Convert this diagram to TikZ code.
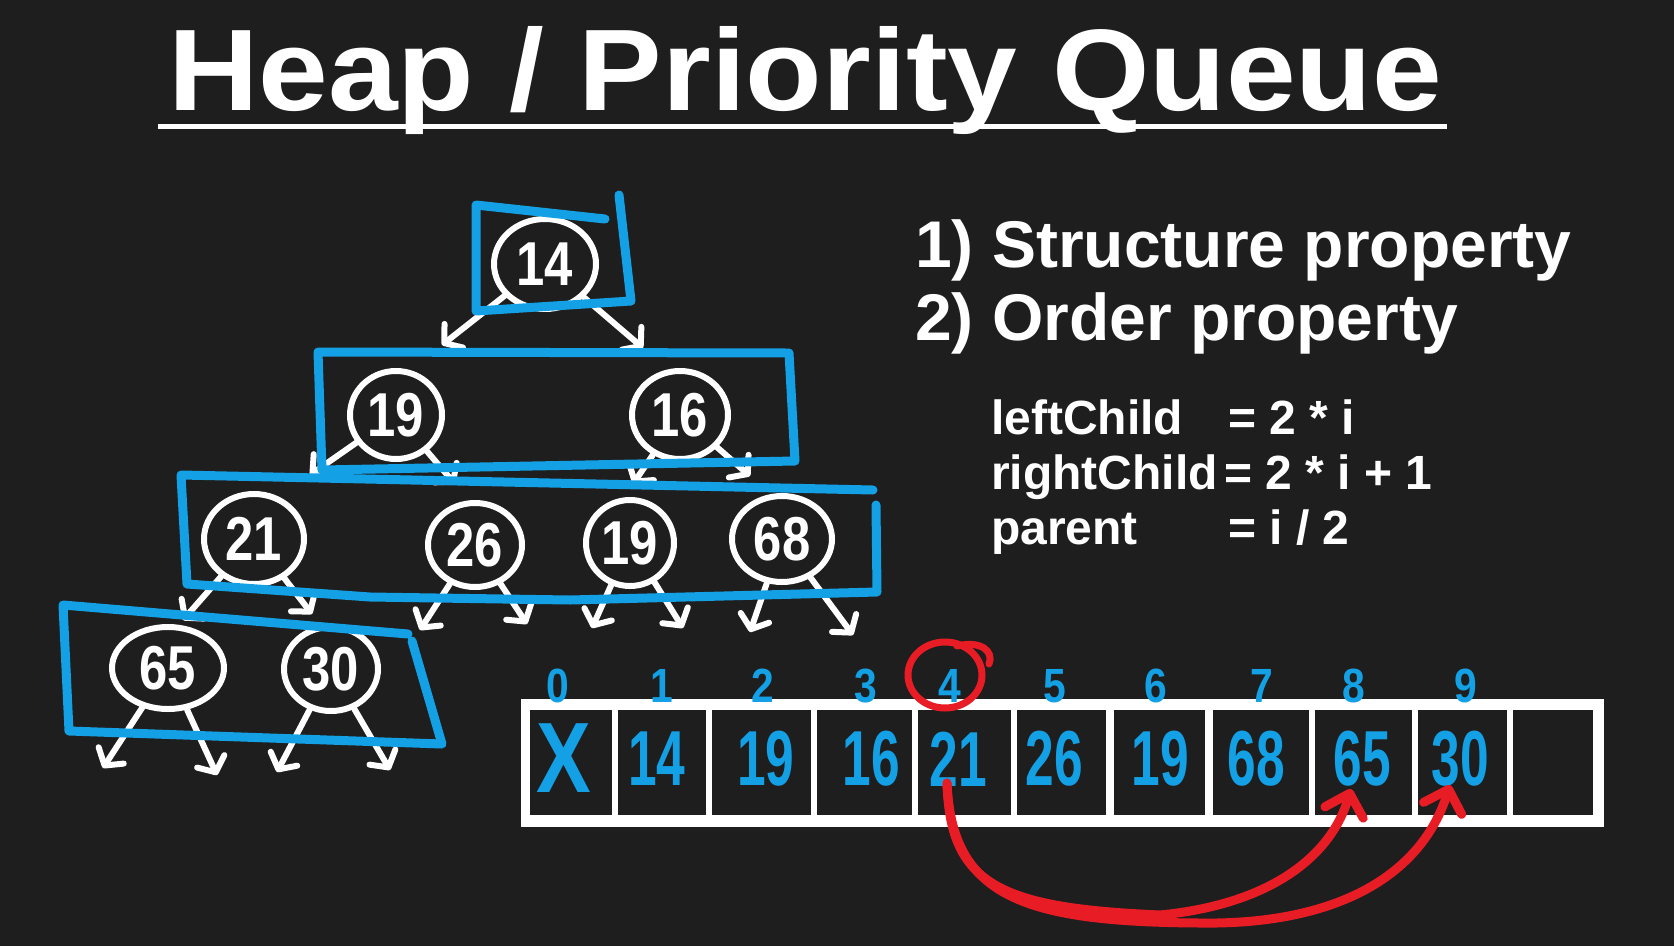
\documentclass[tikz,border=0pt]{standalone}
\usepackage{fontspec}
\setmainfont{Liberation Sans}
\newfontfamily\titlefont[FakeStretch=1.08]{Liberation Sans}
\newfontfamily\handfont[FakeStretch=0.66]{Liberation Sans}
\newfontfamily\treefont[FakeStretch=0.82]{Liberation Sans}
\newfontfamily\idxfont[FakeStretch=0.85]{Liberation Sans}
\usetikzlibrary{shapes.geometric,arrows.meta}
\definecolor{bg}{RGB}{30,30,30}
\definecolor{hblue}{RGB}{20,160,228}
\definecolor{hred}{RGB}{232,28,36}
\begin{document}
\begin{tikzpicture}[x=1pt,y=-1pt,
  tnode/.style={ellipse, draw=white, line width=6pt, text=white, inner sep=0pt,
    font=\treefont\bfseries\fontsize{62}{62}\selectfont},
  warr/.style={draw=white, line width=6pt, line cap=round, line join=round,
    -{Straight Barb[length=12pt,width=30pt,line cap=round,line join=round]}},
  hbox/.style={draw=hblue, line width=9pt, line cap=round, line join=round},
  celltxt/.style={text=hblue, inner sep=0pt, font=\handfont\bfseries\fontsize{78}{78}\selectfont},
  idx/.style={text=hblue, inner sep=0pt, font=\idxfont\bfseries\fontsize{48}{48}\selectfont},
  rarr/.style={draw=hred, line width=9pt, line cap=round, line join=round,
    -{Straight Barb[length=20pt,width=40pt,line cap=round,line join=round]}},
  txt/.style={anchor=base west, inner sep=0pt, text=white},
]
\fill[bg] (0,0) rectangle (1674,946);
\useasboundingbox (0,0) rectangle (1674,946);

% title
\draw[white, line width=5pt] (158,126) -- (1447,126);
\node[txt, font=\titlefont\bfseries\fontsize{116}{116}\selectfont] (title) at (168,110) {Heap / Priority Queue};

% properties
\node[txt, font=\bfseries\fontsize{66}{66}\selectfont] (p1) at (915,267) {1) Structure property};
\node[txt, font=\bfseries\fontsize{66}{66}\selectfont] (p2) at (915,340) {2) Order property};
\node[txt, font=\bfseries\fontsize{48}{48}\selectfont] (f1a) at (991,434) {leftChild};
\node[txt, font=\bfseries\fontsize{48}{48}\selectfont] (f1b) at (1228,434) {= 2 * i};
\node[txt, font=\bfseries\fontsize{48}{48}\selectfont] (f2a) at (991,489) {rightChild};
\node[txt, font=\bfseries\fontsize{48}{48}\selectfont] (f2b) at (1224,489) {= 2 * i + 1};
\node[txt, font=\bfseries\fontsize{48}{48}\selectfont] (f3a) at (991,544) {parent};
\node[txt, font=\bfseries\fontsize{48}{48}\selectfont] (f3b) at (1228,544) {= i / 2};

% tree nodes
\node[tnode, minimum width=102pt, minimum height=90pt] (n14) at (545,264) {14};
\node[tnode, minimum width=92pt, minimum height=88pt] (n19a) at (396,415) {19};
\node[tnode, minimum width=96pt, minimum height=88pt] (n16) at (680,415) {16};
\node[tnode, minimum width=100pt, minimum height=90pt] (n21) at (254,539) {21};
\node[tnode, minimum width=94pt, minimum height=84pt] (n26) at (475,545) {26};
\node[tnode, minimum width=88pt, minimum height=86pt] (n19b) at (630,543) {19};
\node[tnode, minimum width=100pt, minimum height=86pt] (n68) at (782,539) {68};
\node[tnode, minimum width=112pt, minimum height=82pt] (n65) at (168,668) {65};
\node[tnode, minimum width=94pt, minimum height=84pt] (n30) at (331,669) {30};

% arrow end points
\coordinate (e1) at (442,345);
\coordinate (e2) at (643,348);
\coordinate (e3) at (310,475);
\coordinate (e4) at (455,484);
\coordinate (e5) at (633,484);
\coordinate (e6) at (750,476);
\coordinate (e7) at (183,620);
\coordinate (e8) at (312,614);
\coordinate (e9) at (420,630);
\coordinate (e10) at (527,624);
\coordinate (e11) at (592,628);
\coordinate (e12) at (683,628);
\coordinate (e13) at (750,632);
\coordinate (e14) at (853,635);
\coordinate (e15) at (103,768);
\coordinate (e16) at (217,775);
\coordinate (e17) at (277,772);
\coordinate (e18) at (390,770);

\draw[warr] (n14) -- (e1);
\draw[warr] (n14) -- (e2);
\draw[warr] (n19a) -- (e3);
\draw[warr] (n19a) -- (e4);
\draw[warr] (n16) -- (e5);
\draw[warr] (n16) -- (e6);
\draw[warr] (n21) -- (e7);
\draw[warr] (n21) -- (e8);
\draw[warr] (n26) -- (e9);
\draw[warr] (n26) -- (e10);
\draw[warr] (n19b) -- (e11);
\draw[warr] (n19b) -- (e12);
\draw[warr] (n68) -- (e13);
\draw[warr] (n68) -- (e14);
\draw[warr] (n65) -- (e15);
\draw[warr] (n65) -- (e16);
\draw[warr] (n30) -- (e17);
\draw[warr] (n30) -- (e18);

% blue level boxes
\draw[hbox] (605,219) -- (476,205) -- (476,311) -- (631,301) -- (619,195);
\draw[hbox] (318,352) -- (789,353) -- (795,461) -- (322,470) -- cycle;
\draw[hbox] (873,490) -- (181,475) -- (187,584) -- (370,597) -- (570,600) -- (877,592) -- (876,505);
\draw[hbox] (408,634) -- (63,605) -- (69,731) -- (442,744) -- (412,641);

% array
\fill[white] (521,699) rectangle (1604,827);
\foreach \a/\b in {530/612, 618/706, 712/811, 817/912, 918/1011, 1017/1106,
                   1114/1205, 1213/1309, 1315/1412, 1418/1507, 1513/1593}
  \fill[bg] (\a,710) rectangle (\b,815);

\node[celltxt, font=\treefont\bfseries\fontsize{100}{100}\selectfont] (c0) at (564,758) {X};
\foreach \x/\t/\n in {657/14/1, 766/19/2, 871/16/3, 958/21/4, 1054/26/5,
                      1160/19/6, 1256/68/7, 1362/65/8, 1460/30/9}
  \node[celltxt] (c\n) at (\x,759) {\t};

\foreach \x/\t in {558/0, 662/1, 763/2, 866/3, 950/4, 1055/5, 1156/6, 1262/7, 1354/8, 1466/9}
  \node[idx] (i\t) at (\x,686) {\t};

% red highlight
\node[ellipse, draw=hred, line width=7pt, minimum width=74pt, minimum height=66pt, inner sep=0pt] (hl) at (945,675) {};
\draw[hred, line width=7pt, line cap=round] (957,646) .. controls (982,640) and (994,652) .. (989,664);

\coordinate (rs) at (947,783);
\coordinate (re1) at (1351,789);
\coordinate (re2) at (1450,785);
\draw[rarr] (rs) .. controls (950,885) and (1000,908) .. (1160,915) .. controls (1265,905) and (1330,860) .. (re1);
\draw[rarr] (rs) .. controls (952,895) and (1020,922) .. (1200,923) .. controls (1330,925) and (1420,880) .. (re2);
\end{tikzpicture}
\end{document}
